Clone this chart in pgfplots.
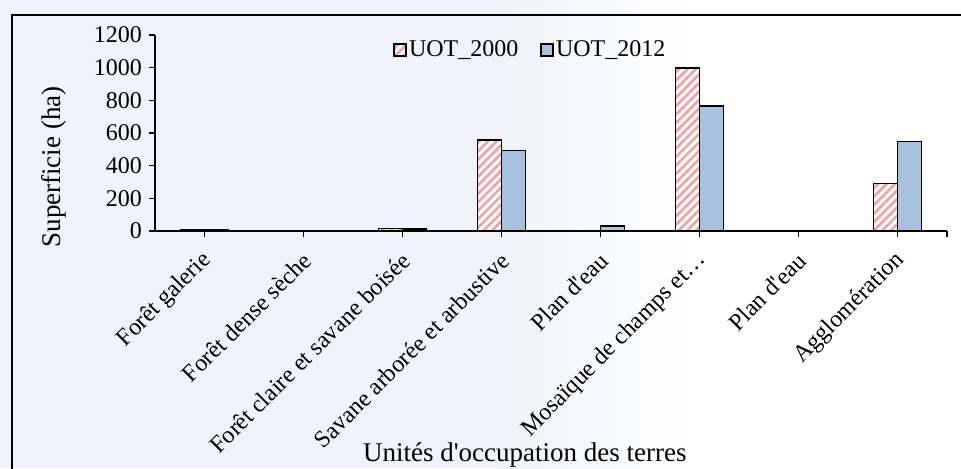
\documentclass[border=0pt]{standalone}
\usepackage{fontspec}
\setmainfont{Liberation Serif}
\usepackage{pgfplots}
\pgfplotsset{compat=1.18}
\usetikzlibrary{patterns.meta}
\definecolor{stripe}{HTML}{F2A0A0}
\definecolor{blueb}{HTML}{A8C1DE}
\definecolor{wash}{HTML}{F0F3FB}
\begin{document}
\begin{tikzpicture}[font=\fontsize{12}{14}\selectfont]
\path[use as bounding box, clip] (0,0) rectangle (480.5pt,234pt);
\fill[white] (0,0) rectangle (480.5pt,234pt);
\fill[wash] (0,0) rectangle (250pt,234pt);
\shade[left color=wash, right color=white] (249.5pt,0) rectangle (345pt,234pt);
\draw[line width=0.6pt] (6pt,-10pt) rectangle (500pt,226.5pt);
\begin{axis}[
  at={(77.5pt,118.5pt)}, anchor=south west,
  scale only axis, width=396pt, height=98pt,
  xmin=-0.5, xmax=7.5, ymin=0, ymax=1200,
  axis x line*=bottom, axis y line*=left,
  axis line style={line width=0.8pt, -},
  ytick={0,200,...,1200},
  xtick={0,...,7},
  xticklabels={For\^et galerie, For\^et dense s\`eche, For\^et claire et savane bois\'ee, Savane arbor\'ee et arbustive, Plan d\textquotesingle eau, Mosa\"ique de champs et…, Plan d\textquotesingle eau, Agglom\'eration},
  extra x ticks={7.5}, extra x tick labels={},
  tick align=outside,
  major tick length=3pt,
  tick style={line width=0.6pt, black},
  xticklabel style={xshift=2.5pt, yshift=-9pt, rotate=45, anchor=east, inner sep=1pt},
  yticklabel style={/pgf/number format/1000 sep={}},
  /pgf/number format/assume math mode=true,
  ybar=0pt, bar width=12pt,
  ylabel={Superficie (ha)},
  ylabel style={at={(rel axis cs:-0.128,0.327)}, anchor=center, font=\fontsize{13.5}{16}\selectfont},
  xlabel={Unit\'es d\textquotesingle occupation des terres},
  xlabel style={at={(rel axis cs:0.467,-1.143)}, anchor=center, font=\fontsize{13.5}{16}\selectfont},
  legend style={at={(0.474,0.925)}, anchor=center, draw=none, fill=none,
    legend columns=2, /tikz/every even column/.append style={column sep=10pt},
    inner sep=0pt, nodes={inner sep=1pt}},
  legend image code/.code={\draw[#1] (0pt,-3pt) rectangle (6pt,3pt);},
]
\addplot[draw=black, line width=0.8pt, fill=white,
  postaction={pattern={Lines[angle=45,distance=3pt,line width=1.3pt]}, pattern color=stripe}]
  coordinates {(0,9) (1,1) (2,15) (3,557) (4,0) (5,998) (6,1) (7,290)};
\addplot[draw=black, line width=0.8pt, fill=blueb]
  coordinates {(0,8) (1,1) (2,12) (3,494) (4,32) (5,767) (6,1) (7,549)};
\legend{UOT\_2000, UOT\_2012}
\end{axis}
\end{tikzpicture}
\end{document}
